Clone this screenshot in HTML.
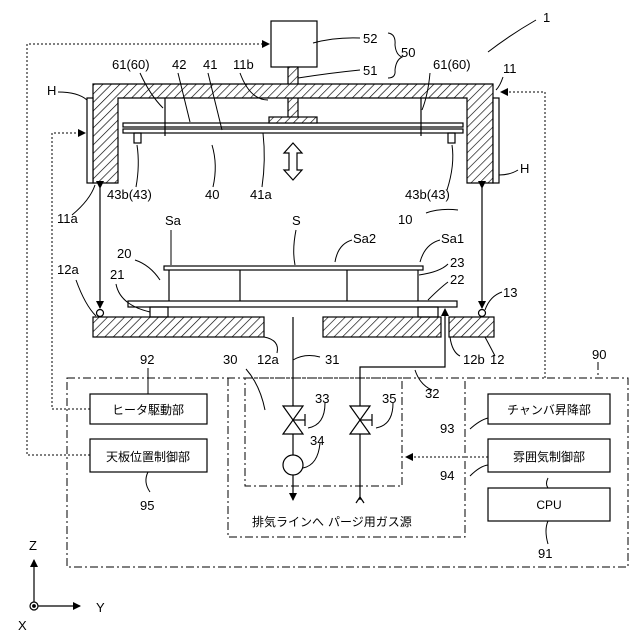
<!DOCTYPE html>
<html><head><meta charset="utf-8"><style>
html,body{margin:0;padding:0;background:#fff}
svg{display:block}
text{font-family:"Liberation Sans","Noto Sans CJK JP",sans-serif;font-size:13px;fill:#000}
.j{font-size:12px}
</style></head><body>
<svg width="640" height="640" viewBox="0 0 640 640" xmlns="http://www.w3.org/2000/svg">
<defs>
<pattern id="h" width="6" height="6" patternUnits="userSpaceOnUse" patternTransform="rotate(45)">
<rect width="6" height="6" fill="#fff"/><line x1="0" y1="0" x2="0" y2="6" stroke="#000" stroke-width="1.3"/></pattern>
<marker id="a" markerWidth="8" markerHeight="8" refX="7" refY="4" orient="auto" markerUnits="userSpaceOnUse"><path d="M0,0 L8,4 L0,8 Z" fill="#000"/></marker>
</defs>
<g stroke="#000" fill="none" stroke-width="1.2">
<rect x="271" y="21" width="46" height="46" fill="#fff"/>
<rect x="288" y="67" width="10" height="52" fill="url(#h)"/>
<path d="M93,84 H493 V183 H467 V98 H118 V183 H93 Z" fill="url(#h)"/>
<rect x="87" y="98" width="6" height="85" fill="#fff"/>
<rect x="493" y="98" width="6" height="85" fill="#fff"/>
<rect x="123" y="123" width="340" height="4" fill="#fff"/>
<rect x="123" y="129" width="340" height="4" fill="#fff"/>
<rect x="269" y="117" width="48" height="6" fill="url(#h)"/>
<line x1="165" y1="98" x2="165" y2="136"/><line x1="421" y1="98" x2="421" y2="136"/>
<rect x="134" y="133" width="7" height="10"/><rect x="448" y="133" width="7" height="10"/>
<path d="M293,143 L302,153 H297 V170 H302 L293,180 L284,170 H289 V153 H284 Z" fill="#fff"/>
<line x1="100" y1="188" x2="100" y2="308" marker-start="url(#a)" marker-end="url(#a)"/>
<line x1="482" y1="188" x2="482" y2="308" marker-start="url(#a)" marker-end="url(#a)"/>
<circle cx="100" cy="313" r="3.5" fill="#fff"/><circle cx="482" cy="313" r="3.5" fill="#fff"/>
<rect x="93" y="317" width="171" height="20" fill="url(#h)"/>
<rect x="323" y="317" width="118" height="20" fill="url(#h)"/>
<rect x="449" y="317" width="45" height="20" fill="url(#h)"/>
<rect x="128" y="301" width="329" height="6" fill="#fff"/>
<rect x="150" y="307" width="18" height="10"/>
<rect x="418" y="307" width="20" height="10"/>
<rect x="164" y="266" width="259" height="4" fill="#fff"/>
<line x1="169" y1="270" x2="169" y2="301"/><line x1="240" y1="270" x2="240" y2="301"/>
<line x1="347" y1="270" x2="347" y2="301"/><line x1="418" y1="270" x2="418" y2="301"/>
<line x1="293" y1="317" x2="293" y2="500" marker-end="url(#a)"/>
<path d="M360,500 V367 H445 V309" marker-end="url(#a)"/>
<path d="M356,503 L360,497 L364,503"/>
<path d="M283,406 L303,406 L283,434 L303,434 Z" fill="#fff"/>
<path d="M350,406 L370,406 L350,434 L370,434 Z" fill="#fff"/>
<line x1="293" y1="420" x2="305" y2="420"/><line x1="305" y1="414" x2="305" y2="426"/>
<line x1="360" y1="420" x2="372" y2="420"/><line x1="372" y1="414" x2="372" y2="426"/>
<circle cx="293" cy="465" r="10" fill="#fff"/>
<rect x="90" y="394" width="117" height="30"/>
<rect x="90" y="439" width="117" height="33"/>
<rect x="488" y="394" width="122" height="30"/>
<rect x="488" y="439" width="122" height="33"/>
<rect x="488" y="488" width="122" height="33"/>
</g>
<g stroke="#000" fill="none" stroke-width="1" stroke-dasharray="8,3,2,3">
<rect x="67" y="378" width="561" height="189"/>
<rect x="245" y="378" width="157" height="108"/>
<path d="M228,378 V537 H465 V378"/>
<line x1="598" y1="362" x2="598" y2="378"/>
</g>
<g stroke="#000" fill="none" stroke-width="1" stroke-dasharray="2,2">
<path d="M90,409 H52 V133 H85" marker-end="url(#a)"/>
<path d="M90,455 H27 V44 H269" marker-end="url(#a)"/>
<path d="M545,378 V92 H501" marker-end="url(#a)"/>
<line x1="488" y1="457" x2="406" y2="457" marker-end="url(#a)"/>
</g>
<g stroke="#000" fill="none" stroke-width="1">
<path d="M313,43 Q335,37 360,38"/><path d="M298,78 Q330,73 360,70"/>
<path d="M388,33 Q396,34 395,45 Q396,55 402,57 Q396,60 395,70 Q396,78 388,78"/>
<path d="M536,20 Q510,35 488,52"/>
<path d="M58,92 Q78,92 87,100"/><path d="M499,175 Q510,175 518,170"/>
<path d="M140,73 Q150,95 163,108"/><path d="M430,73 Q428,95 422,110"/>
<path d="M178,73 L190,122"/><path d="M208,73 L222,130"/>
<path d="M240,73 Q250,100 268,100"/><path d="M503,77 Q500,86 496,90"/>
<path d="M137,145 Q140,165 136,187"/><path d="M452,145 Q455,165 447,190"/>
<path d="M212,145 Q218,165 213,187"/><path d="M263,133 Q266,160 262,187"/>
<path d="M72,215 Q90,200 95,185"/>
<path d="M426,213 Q440,208 458,210"/>
<path d="M171,230 V265"/><path d="M296,230 Q292,250 295,265"/>
<path d="M352,240 Q338,244 335,262"/><path d="M440,240 Q425,244 420,262"/>
<path d="M135,260 Q150,265 160,280"/>
<path d="M448,264 Q440,272 419,275"/><path d="M448,282 Q440,288 428,300"/>
<path d="M502,292 Q490,296 485,310"/>
<path d="M76,280 Q85,305 96,316"/><path d="M116,284 Q120,305 150,312"/>
<path d="M264,337 Q280,340 277,353"/><path d="M293,360 Q305,353 320,357"/>
<path d="M450,337 Q452,352 460,356"/>
<path d="M485,337 Q492,350 495,356"/><path d="M415,370 Q420,385 432,390"/>
<path d="M148,368 V394"/><path d="M148,472 Q143,482 150,492"/>
<path d="M548,478 Q545,484 548,488"/>
<path d="M246,369 Q260,385 265,410"/>
<path d="M325,403 Q325,425 308,428"/><path d="M393,403 Q393,425 376,428"/>
<path d="M320,443 Q318,465 303,468"/>
<path d="M470,429 Q480,420 488,418"/><path d="M470,476 Q480,466 488,465"/>
<path d="M548,521 Q544,530 548,544"/>
</g>
<g stroke="#000" stroke-width="1.2" fill="none">
<line x1="34" y1="606" x2="34" y2="560" marker-end="url(#a)"/>
<line x1="34" y1="606" x2="80" y2="606" marker-end="url(#a)"/>
<circle cx="34" cy="606" r="4" fill="#fff"/><circle cx="34" cy="606" r="1.3" fill="#000"/>
</g>
<g>
<text x="543" y="22">1</text><text x="363" y="43">52</text><text x="363" y="75">51</text><text x="401" y="57">50</text>
<text x="112" y="69">61(60)</text><text x="172" y="69">42</text><text x="203" y="69">41</text><text x="233" y="69">11b</text>
<text x="433" y="69">61(60)</text><text x="503" y="73">11</text>
<text x="47" y="95">H</text><text x="520" y="173">H</text>
<text x="107" y="199">43b(43)</text><text x="205" y="199">40</text><text x="250" y="199">41a</text><text x="405" y="199">43b(43)</text>
<text x="57" y="223">11a</text><text x="165" y="225">Sa</text><text x="292" y="225">S</text><text x="398" y="224">10</text>
<text x="353" y="243">Sa2</text><text x="441" y="243">Sa1</text>
<text x="117" y="258">20</text><text x="57" y="274">12a</text><text x="110" y="279">21</text>
<text x="450" y="267">23</text><text x="450" y="284">22</text><text x="503" y="297">13</text>
<text x="257" y="364">12a</text><text x="325" y="364">31</text><text x="463" y="364">12b</text><text x="490" y="364">12</text>
<text x="425" y="398">32</text><text x="592" y="359">90</text>
<text x="140" y="364">92</text><text x="223" y="364">30</text>
<text x="315" y="403">33</text><text x="382" y="403">35</text><text x="310" y="445">34</text>
<text x="440" y="433">93</text><text x="440" y="480">94</text><text x="140" y="510">95</text><text x="538" y="558">91</text>
<text class="j" x="148" y="414" text-anchor="middle">ヒータ駆動部</text>
<text class="j" x="148" y="461" text-anchor="middle">天板位置制御部</text>
<text class="j" x="549" y="414" text-anchor="middle">チャンバ昇降部</text>
<text class="j" x="549" y="461" text-anchor="middle">雰囲気制御部</text>
<text class="j" x="549" y="509" text-anchor="middle">CPU</text>
<text class="j" x="252" y="526">排気ラインへ</text><text class="j" x="328" y="526">パージ用ガス源</text>
<text x="29" y="550">Z</text><text x="96" y="612">Y</text><text x="18" y="630">X</text>
</g>
</svg>
</body></html>
